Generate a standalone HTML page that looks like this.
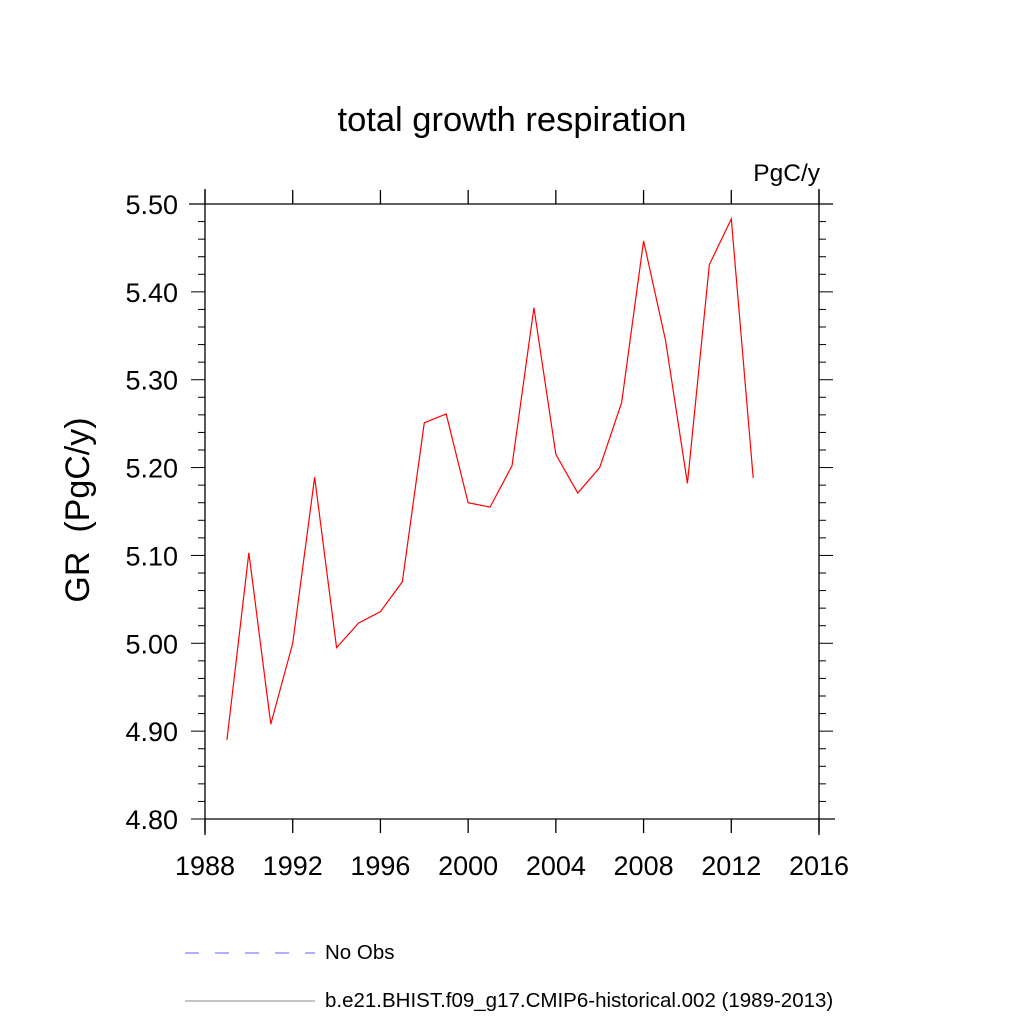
<!DOCTYPE html>
<html><head><meta charset="utf-8"><style>
body{margin:0;background:#fff;}
svg text{font-family:"Liberation Sans",sans-serif;fill:#000;}
</style></head><body>
<svg id="chart" width="1024" height="1024" viewBox="0 0 1024 1024">
<text x="512" y="131" font-size="34.5" text-anchor="middle">total growth respiration</text>
<text x="820" y="181" font-size="24.5" text-anchor="end">PgC/y</text>
<text transform="translate(89,510) rotate(-90)" font-size="34" text-anchor="middle">GR&#160;&#160;(PgC/y)</text>
<g id="axes"></g>
<g id="marks"></g>
<g>
<line x1="185" y1="953" x2="315" y2="953" stroke="#6060ff" stroke-width="1" stroke-dasharray="14,16"/>
<text x="325" y="959" font-size="20.5">No Obs</text>
<line x1="185" y1="1001" x2="315" y2="1001" stroke="#888" stroke-width="1"/>
<text x="325" y="1007" font-size="20.5">b.e21.BHIST.f09_g17.CMIP6-historical.002 (1989-2013)</text>
</g>
</svg>
<script>
const years=[1989,1990,1991,1992,1993,1994,1995,1996,1997,1998,1999,2000,2001,2002,2003,2004,2005,2006,2007,2008,2009,2010,2011,2012,2013];
const grValues=[4.890,5.103,4.908,5.000,5.189,4.995,5.023,5.036,5.070,5.251,5.261,5.160,5.155,5.202,5.382,5.215,5.171,5.200,5.274,5.458,5.345,5.182,5.431,5.483,5.188];
const xTicks=[1988,1992,1996,2000,2004,2008,2012,2016];
const yTicks=[4.80,4.90,5.00,5.10,5.20,5.30,5.40,5.50];
const L=205,R=819,T=204,B=819;
const xs=v=>L+(v-1988)/(28)*(R-L);
const ys=v=>B-(v-4.8)/0.7*(B-T);
const NS="http://www.w3.org/2000/svg";
const ax=document.getElementById('axes'),mk=document.getElementById('marks');
function ln(g,x1,y1,x2,y2,w,name){const e=document.createElementNS(NS,'line');e.setAttribute('x1',x1);e.setAttribute('y1',y1);e.setAttribute('x2',x2);e.setAttribute('y2',y2);e.setAttribute('stroke','#000');e.setAttribute('stroke-width',w);


g.appendChild(e);}
ln(ax,189,T,833,T,1.3,'top-axis-line');
ln(ax,L,819,835,819,1.3,'bottom-axis-line');
ln(ax,L,189,L,835,1.3,'left-axis-line');
ln(ax,R,189,R,835,1.3,'right-axis-line');
xTicks.forEach(v=>{const x=xs(v);ln(ax,x,B,x,B+14,1.3,'x-tick');ln(ax,x,T,x,T-14,1.3,'x-tick-top');
const t=document.createElementNS(NS,'text');t.setAttribute('x',x);t.setAttribute('y',875);t.setAttribute('font-size',27);t.setAttribute('text-anchor','middle');t.textContent=v;


ax.appendChild(t);});
for(let i=0;i<=35;i++){const v=4.8+i*0.02;const y=ys(v);const major=i%5===0;const len=major?14:7;
ln(ax,L-len,y,L,y,1,'y-tick');ln(ax,R,y,R+len,y,1,'y-tick-right');}
yTicks.forEach(v=>{const t=document.createElementNS(NS,'text');t.setAttribute('x',178);t.setAttribute('y',ys(v)+10);t.setAttribute('font-size',27);t.setAttribute('text-anchor','end');t.textContent=v.toFixed(2);


ax.appendChild(t);});
const p=document.createElementNS(NS,'polyline');
p.setAttribute('points',years.map((y,i)=>xs(y)+','+ys(grValues[i])).join(' '));
p.setAttribute('fill','none');p.setAttribute('stroke','#ff0000');p.setAttribute('stroke-width','1.2');


mk.appendChild(p);
</script>
</body></html>
